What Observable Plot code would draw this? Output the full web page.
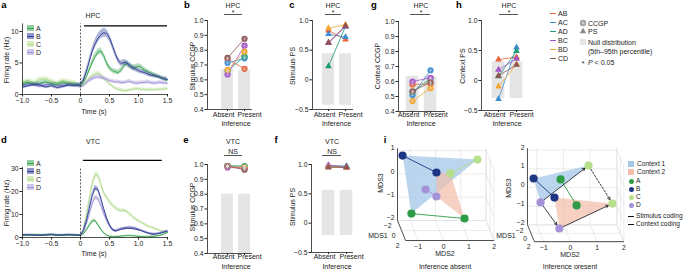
<!DOCTYPE html>
<html>
<head>
<meta charset="utf-8">
<script src="https://cdn.jsdelivr.net/npm/d3@7"></script>
<script src="https://cdn.jsdelivr.net/npm/@observablehq/plot@0.6"></script>
<style>
  html,body{margin:0;padding:0;background:#fff;}
  #root{position:relative;width:685px;height:269px;overflow:hidden;background:#fff;font-family:"Liberation Sans",Arial,Helvetica,sans-serif;color:#222;}
  #root > svg{position:absolute;left:0;top:0;}
  .t{position:absolute;white-space:nowrap;font-size:7px;line-height:1;}
  .b{font-weight:bold;font-size:9.5px;color:#000;}
  .hl{position:absolute;height:0;}
  .sw{position:absolute;}
</style>
</head>
<body>
<div id="root"></div>
<script>
// ---------------- DATA ----------------
const times = [-1.0,-0.9,-0.8,-0.7,-0.6,-0.5,-0.4,-0.3,-0.2,-0.1,0.0,0.05,0.1,0.15,0.2,0.25,0.3,0.35,0.4,0.45,0.5,0.55,0.6,0.65,0.7,0.75,0.8,0.85,0.9,0.95,1.0,1.05,1.1,1.15,1.2,1.25,1.3,1.35,1.4,1.45,1.5];
const timeTicks = [-1.0,-0.5,0,0.5,1.0,1.5];
const conds = ["A","B","C","D"];

// HPC firing rate (Hz)
const hpcA = [1.7,1.9,1.6,1.8,2.0,1.7,1.6,1.9,1.7,1.6,1.4,1.9,2.8,3.9,5.0,6.0,6.7,6.9,6.2,5.0,4.2,3.8,3.6,3.5,3.8,4.6,4.9,4.5,4.3,4.3,4.5,4.3,3.9,3.7,3.4,3.2,3.0,2.8,2.6,2.4,2.3];
const hpcB = [1.2,1.4,1.6,1.5,1.2,1.4,1.1,1.3,1.5,1.4,1.6,2.3,3.6,5.2,6.8,8.0,8.9,9.5,9.8,9.7,9.0,7.8,6.5,5.4,4.9,5.1,5.0,4.6,4.2,4.0,3.8,3.6,3.5,3.3,3.1,3.0,2.9,2.8,2.6,2.5,2.4];
const hpcC = [2.0,2.2,1.9,2.4,2.5,2.1,1.8,2.2,2.0,1.9,1.3,1.6,2.0,2.5,2.9,3.2,3.4,3.1,2.6,2.1,1.7,1.3,1.0,0.8,0.7,0.6,0.6,0.7,0.8,0.9,0.9,0.8,0.8,0.7,0.8,0.7,0.8,0.8,0.8,0.9,0.9];
const hpcD = [1.5,1.7,1.5,1.3,1.6,1.7,1.5,1.4,1.6,1.5,1.2,1.4,1.8,2.2,2.5,2.7,2.8,2.7,2.6,2.4,2.2,2.1,2.0,2.0,1.9,1.9,2.0,2.1,1.9,1.8,1.8,1.9,1.9,2.0,1.9,1.8,1.8,1.9,1.9,1.8,1.8];
const hpcSemA = [0.3,0.3,0.3,0.3,0.3,0.3,0.3,0.3,0.3,0.3,0.3,0.35,0.4,0.45,0.5,0.5,0.5,0.5,0.45,0.45,0.4,0.4,0.4,0.4,0.4,0.45,0.45,0.45,0.4,0.4,0.4,0.4,0.4,0.35,0.35,0.35,0.35,0.3,0.3,0.3,0.3];
const hpcSemB = [0.3,0.3,0.3,0.3,0.3,0.3,0.3,0.3,0.3,0.3,0.3,0.35,0.45,0.55,0.6,0.65,0.7,0.7,0.7,0.65,0.6,0.55,0.5,0.45,0.45,0.45,0.45,0.4,0.4,0.4,0.4,0.35,0.35,0.35,0.35,0.35,0.3,0.3,0.3,0.3,0.3];
const hpcSemC = [0.35,0.35,0.35,0.35,0.35,0.35,0.35,0.35,0.35,0.35,0.3,0.3,0.3,0.35,0.35,0.35,0.35,0.35,0.3,0.3,0.3,0.25,0.25,0.25,0.25,0.25,0.25,0.25,0.25,0.25,0.25,0.25,0.25,0.25,0.25,0.25,0.25,0.25,0.25,0.25,0.25];
const hpcSemD = [0.3,0.3,0.3,0.3,0.3,0.3,0.3,0.3,0.3,0.3,0.3,0.3,0.3,0.35,0.35,0.35,0.35,0.35,0.35,0.3,0.3,0.3,0.3,0.3,0.3,0.3,0.3,0.3,0.3,0.3,0.3,0.3,0.3,0.3,0.3,0.3,0.3,0.3,0.3,0.3,0.3];

// VTC firing rate (Hz)
const vtcA = [1.0,0.9,1.1,1.0,1.1,1.2,0.9,1.0,1.1,1.0,0.9,1.6,3.2,5.2,7.0,7.4,5.6,3.6,2.0,1.0,0.5,0.3,0.3,0.4,0.6,0.7,0.8,0.8,0.7,0.6,0.5,0.4,0.3,0.3,0.4,0.5,0.6,0.8,1.1,1.6,2.2];
const vtcB = [1.1,1.2,1.0,0.9,1.1,1.3,1.0,1.1,1.2,1.1,1.0,3.0,7.0,12.5,18.0,21.5,21.0,17.0,12.5,8.5,5.5,3.5,2.9,3.2,3.6,3.8,4.0,4.0,3.9,3.6,3.3,3.0,2.5,2.0,1.6,1.4,1.5,1.7,2.0,2.4,2.8];
const vtcC = [0.9,1.0,1.2,1.1,1.0,1.3,1.1,1.0,1.2,1.0,0.8,3.5,9.5,16.5,23.0,27.0,27.2,23.5,19.5,17.5,15.5,14.0,13.0,12.0,11.6,11.8,11.2,10.2,9.0,8.0,7.2,6.5,5.8,5.1,4.6,4.2,3.7,3.2,2.8,2.5,2.2];
const vtcD = [1.0,1.1,1.0,1.2,1.0,1.1,1.2,0.9,1.0,1.1,1.0,2.6,5.8,10.0,14.5,17.5,17.0,14.0,10.5,7.5,5.0,3.2,2.7,3.1,3.7,4.1,4.4,4.5,4.4,4.1,3.6,2.9,2.4,2.1,1.8,1.6,1.6,1.8,2.1,2.5,2.8];
const vtcSemA = [0.3,0.3,0.3,0.3,0.3,0.3,0.3,0.3,0.3,0.3,0.3,0.4,0.5,0.6,0.7,0.7,0.6,0.5,0.4,0.3,0.3,0.3,0.3,0.3,0.3,0.3,0.3,0.3,0.3,0.3,0.3,0.3,0.3,0.3,0.3,0.3,0.3,0.3,0.3,0.3,0.3];
const vtcSemB = [0.3,0.3,0.3,0.3,0.3,0.3,0.3,0.3,0.3,0.3,0.3,0.6,0.9,1.1,1.2,1.2,1.1,1.0,0.9,0.8,0.7,0.6,0.5,0.5,0.5,0.5,0.5,0.5,0.5,0.5,0.5,0.4,0.4,0.4,0.4,0.4,0.4,0.4,0.4,0.4,0.4];
const vtcSemC = [0.3,0.3,0.3,0.3,0.3,0.3,0.3,0.3,0.3,0.3,0.3,0.7,1.0,1.3,1.4,1.4,1.3,1.2,1.1,1.0,0.9,0.9,0.9,0.8,0.8,0.8,0.8,0.8,0.7,0.7,0.7,0.6,0.6,0.6,0.5,0.5,0.5,0.5,0.5,0.5,0.5];
const vtcSemD = [0.3,0.3,0.3,0.3,0.3,0.3,0.3,0.3,0.3,0.3,0.3,0.6,0.8,1.0,1.1,1.1,1.0,0.9,0.8,0.7,0.6,0.5,0.5,0.5,0.5,0.5,0.5,0.5,0.5,0.5,0.5,0.4,0.4,0.4,0.4,0.4,0.4,0.4,0.4,0.4,0.4];

// Pairwise decoding (order AB, AC, AD, BC, BD, CD)
const pairs = ["AB","AC","AD","BC","BD","CD"];
const inferenceLabels = ["Absent","Present"];
const hpcStimCCGPAbsent  = [0.74,0.715,0.66,0.636,0.668,0.748];
const hpcStimCCGPPresent = [0.674,0.745,0.757,0.83,0.79,0.877];
const hpcStimCCGPNullLo  = [0.4,0.4];
const hpcStimCCGPNullHi  = [0.67,0.665];
const hpcStimPSAbsent  = [0.83,0.77,0.23,0.62,0.87,0.63];
const hpcStimPSPresent = [0.68,0.72,0.90,0.90,0.93,0.91];
const hpcStimPSNullLo  = [-0.43,-0.43];
const hpcStimPSNullHi  = [0.44,0.44];
const hpcCtxCCGPAbsent  = [0.58,0.51,0.53,0.60,0.47,0.535];
const hpcCtxCCGPPresent = [0.585,0.675,0.62,0.625,0.555,0.595];
const hpcCtxCCGPNullLo  = [0.4,0.4];
const hpcCtxCCGPNullHi  = [0.635,0.635];
const hpcCtxPSAbsent  = [0.35,-0.31,0.07,0.18,-0.10,0.08];
const hpcCtxPSPresent = [0.39,0.55,0.49,0.36,0.27,0.26];
const hpcCtxPSNullLo  = [-0.30,-0.30];
const hpcCtxPSNullHi  = [0.31,0.31];
const vtcStimCCGPAbsent  = [0.99,0.99,0.99,0.98,0.99,0.99];
const vtcStimCCGPPresent = [0.975,0.985,0.99,0.975,0.98,0.965];
const vtcStimCCGPNullLo  = [0.4,0.4];
const vtcStimCCGPNullHi  = [0.8,0.8];
const vtcStimPSAbsent  = [0.97,0.98,0.97,0.99,0.96,0.95];
const vtcStimPSPresent = [0.95,0.97,0.97,0.96,0.95,0.95];
const vtcStimPSNullLo  = [-0.21,-0.21];
const vtcStimPSNullHi  = [0.56,0.56];
const ccgpTicks = [0.4,0.5,0.6,0.7,0.8,0.9,1.0];
const psTicks = [-0.5,0,0.5,1.0];

// MDS (panel i): [MDS1, MDS2, MDS3] for stimuli A, B, C, D
const stimuli = ["A","B","C","D"];
const absentCtx1 = [[1,-1.19,-1.06],[-1,-1.38,1.00],[-1,1.58,0.83],[0,-0.55,-0.24]];
const absentCtx2 = [[1,0.91,-1.27],[0,-0.12,0.49],[0,0.43,0.45],[0,-0.12,-0.54]];
const presentCtx1 = [[0,-0.24,0.88],[0,-1.25,0.93],[-1,0.87,1.40],[0,-0.99,-0.35]];
const presentCtx2 = [[0,0.36,-0.51],[0,-0.47,-0.09],[0,1.70,-0.41],[1,-0.35,-1.52]];
const mds1Ticks = [-2,0,2];
const mds2Ticks = [-1,0,1,2];
const mds3TicksAbsent = [-2,-1,0,1];
const mds3TicksPresent = [-2,-1,0,1,2];

// ---------------- STYLE ----------------
const condColors = ["#3aa552","#34449a","#b3dc8f","#a596d8"];
const pairColors = ["#e8643c","#3c8dd0","#1d9a78","#a553c9","#f4a630","#8e5454"];
const stimColors = ["#2f9c47","#1e3785","#b6e08c","#a592d8"];
const ctxFill = ["#a6c9e8","#f3bcab"];
const nullGray = "#e5e5e5";

const root = document.getElementById("root");
const W = 685, H = 269;
const FONT = '"Liberation Sans", Arial, Helvetica, sans-serif';
const fmt1 = d => d === 0 ? "0" : d3.format(".1f")(d);
const fmtI = d3.format("d");

function box(l, r, t, b) {
  return {width: W, height: H, marginLeft: l, marginRight: W - r, marginTop: t, marginBottom: H - b,
    style: {background: "transparent", overflow: "visible", fontFamily: FONT, fontSize: "6.8px", color: "#222"}};
}
function T(s, x, y, o = {}) {
  const el = document.createElement("div");
  el.className = "t" + (o.bold ? " b" : "");
  el.innerHTML = s;
  const ax = o.anchor === "start" ? "0%" : o.anchor === "end" ? "-100%" : "-50%";
  el.style.left = x + "px"; el.style.top = y + "px";
  el.style.transform = `translate(${ax},-50%)` + (o.rotate ? " rotate(-90deg)" : "");
  if (o.size) el.style.fontSize = o.size + "px";
  if (o.color) el.style.color = o.color;
  root.appendChild(el);
}
function HL(x1, x2, y, color = "#555", w = 0.8, dash = false) {
  const el = document.createElement("div");
  el.className = "hl";
  el.style.left = x1 + "px"; el.style.top = y + "px"; el.style.width = (x2 - x1) + "px";
  el.style.borderTop = `${w}px ${dash ? "dashed" : "solid"} ${color}`;
  root.appendChild(el);
}
function SW(x, y, w, h, css) {
  const el = document.createElement("div");
  el.className = "sw";
  el.style.left = x + "px"; el.style.top = y + "px"; el.style.width = w + "px"; el.style.height = h + "px";
  el.style.cssText += css;
  root.appendChild(el);
}
function add(svg) { root.appendChild(svg); }

// ---------------- TIME SERIES (a, d) ----------------
function tsPanel(means, sems, cfg) {
  const marks = [];
  for (const ci of [2, 3, 0, 1]) {
    const rows = times.map((t, i) => ({t, m: means[ci][i], s: sems[ci][i]}));
    marks.push(Plot.areaY(rows, {x: "t", y1: d => d.m - d.s, y2: d => d.m + d.s, fill: condColors[ci], fillOpacity: 0.38}));
    marks.push(Plot.lineY(rows, {x: "t", y: "m", stroke: condColors[ci], strokeWidth: 1}));
  }
  marks.push(
    Plot.ruleX([0], {y1: 0, y2: cfg.axisTop, stroke: "#222", strokeWidth: 0.7, strokeDasharray: "2,1.5"}),
    Plot.ruleY([cfg.barY], {x1: cfg.stim[0], x2: cfg.stim[1], stroke: "#000", strokeWidth: 1.3}),
    Plot.ruleX([-1], {y1: 0, y2: cfg.axisTop, stroke: "#222", strokeWidth: 0.8}),
    Plot.ruleY([0], {x1: -1, x2: 1.5, stroke: "#222", strokeWidth: 0.8}),
    Plot.axisX({ticks: timeTicks, tickFormat: fmt1, tickSize: 2.5, tickPadding: 1.5, label: null, fontSize: 6.8}),
    Plot.axisY({ticks: cfg.yTicks, tickFormat: fmtI, tickSize: 2.5, tickPadding: 1.5, label: null, fontSize: 6.8})
  );
  return Plot.plot({...box(...cfg.frame), x: {domain: [-1, 1.5]}, y: {domain: cfg.yDomain}, marks});
}

add(tsPanel([hpcA, hpcB, hpcC, hpcD], [hpcSemA, hpcSemB, hpcSemC, hpcSemD],
  {frame: [22, 167, 23.4, 94], yDomain: [0, 11.2], yTicks: [0, 5, 10], axisTop: 11.2, barY: 10.9, stim: [0.07, 1.5]}));
add(tsPanel([vtcA, vtcB, vtcC, vtcD], [vtcSemA, vtcSemB, vtcSemC, vtcSemD],
  {frame: [22, 167, 161.1, 237], yDomain: [0, 33], yTicks: [0, 10, 20, 30], axisTop: 30.5, barY: 33.5, stim: [0.05, 1.41]}));

// ---------------- PAIR PANELS (b, c, e, f, g, h) ----------------
function pairPanel(cfg) {
  const rows = pairs.flatMap((p, i) => [{pair: p, x: 0, v: cfg.absent[i]}, {pair: p, x: 1, v: cfg.present[i]}]);
  const bars = [0, 1].map(i => ({x: i, lo: cfg.nullLo[i], hi: cfg.nullHi[i]}));
  const [x0, x1] = cfg.xDomain, [y0, y1] = cfg.yDomain;
  const marks = [
    Plot.rect(bars, {x1: d => d.x - 0.35, x2: d => d.x + 0.35, y1: "lo", y2: "hi", fill: nullGray}),
    Plot.line(rows, {x: "x", y: "v", z: "pair", stroke: "pair", strokeWidth: 0.8}),
  ];
  if (cfg.symbol === "circle") {
    marks.push(Plot.dot(rows, {x: "x", y: "v", fill: "pair", r: 3.1}));
    marks.push(Plot.dot(rows, {x: "x", y: "v", symbol: "asterisk", r: 2.1, stroke: "#e6e6e6", strokeWidth: 0.5, strokeOpacity: 0.7}));
  } else {
    marks.push(Plot.dot(rows, {x: "x", y: "v", fill: "pair", symbol: "triangle", r: 2.5}));
  }
  marks.push(
    Plot.ruleX([x0], {y1: y0, y2: y1, stroke: "#222", strokeWidth: 0.8}),
    Plot.ruleY([y0], {x1: x0, x2: x1, stroke: "#222", strokeWidth: 0.8}),
    Plot.axisY({ticks: cfg.yTicks, tickFormat: fmt1, tickSize: 2.5, tickPadding: 1.5, label: null, fontSize: 6.8}),
    Plot.axisX({ticks: [0, 1], tickFormat: () => "", tickSize: 2, label: null}),
    Plot.text([{x: 0, l: inferenceLabels[0]}], {x: "x", text: "l", frameAnchor: "bottom", dy: cfg.labelDy, dx: 7, textAnchor: "end", fontSize: 7}),
    Plot.text([{x: 1, l: inferenceLabels[1]}], {x: "x", text: "l", frameAnchor: "bottom", dy: cfg.labelDy, dx: -7, textAnchor: "start", fontSize: 7})
  );
  return Plot.plot({...box(...cfg.frame), x: {domain: cfg.xDomain, axis: null}, y: {domain: cfg.yDomain, axis: null},
    color: {domain: pairs, range: pairColors}, marks});
}

add(pairPanel({frame: [207, 252, 20, 109], xDomain: [-1.18, 1.47], yDomain: [0.4, 1.0], yTicks: ccgpTicks,
  absent: hpcStimCCGPAbsent, present: hpcStimCCGPPresent, nullLo: hpcStimCCGPNullLo, nullHi: hpcStimCCGPNullHi, symbol: "circle", labelDy: 7}));
add(pairPanel({frame: [312, 353, 20, 109], xDomain: [-0.94, 1.47], yDomain: [-0.5, 1.0], yTicks: psTicks,
  absent: hpcStimPSAbsent, present: hpcStimPSPresent, nullLo: hpcStimPSNullLo, nullHi: hpcStimPSNullHi, symbol: "triangle", labelDy: 7}));
add(pairPanel({frame: [398, 445, 21, 111], xDomain: [-0.78, 1.83], yDomain: [0.4, 1.0], yTicks: ccgpTicks,
  absent: hpcCtxCCGPAbsent, present: hpcCtxCCGPPresent, nullLo: hpcCtxCCGPNullLo, nullHi: hpcCtxCCGPNullHi, symbol: "circle", labelDy: 5}));
add(pairPanel({frame: [481, 533, 20, 110], xDomain: [-0.94, 1.94], yDomain: [-0.5, 1.0], yTicks: psTicks,
  absent: hpcCtxPSAbsent, present: hpcCtxPSPresent, nullLo: hpcCtxPSNullLo, nullHi: hpcCtxPSNullHi, symbol: "triangle", labelDy: 6}));
add(pairPanel({frame: [207, 252, 164, 253], xDomain: [-1.18, 1.47], yDomain: [0.4, 1.0], yTicks: ccgpTicks,
  absent: vtcStimCCGPAbsent, present: vtcStimCCGPPresent, nullLo: vtcStimCCGPNullLo, nullHi: vtcStimCCGPNullHi, symbol: "circle", labelDy: 5}));
add(pairPanel({frame: [311, 353, 164, 252], xDomain: [-0.94, 1.39], yDomain: [-0.5, 1.0], yTicks: psTicks,
  absent: vtcStimPSAbsent, present: vtcStimPSPresent, nullLo: vtcStimPSNullLo, nullHi: vtcStimPSNullHi, symbol: "triangle", labelDy: 6}));

// ---------------- MDS PANELS (i) ----------------
function mdsPanel(cfg) {
  const P = ([m1, m2, m3]) => ({u: m2 + cfg.kx * m1, v: m3 - cfg.ky * m1});
  const [a1, b1] = cfg.m1Range, [a2, b2] = cfg.m2Range, [a3, b3] = cfg.m3Range;
  const grid = [], axes = [];
  const seg = (arr, p, q) => { const A = P(p), B = P(q); arr.push({x1: A.u, y1: A.v, x2: B.u, y2: B.v}); };
  cfg.m3Ticks.forEach(z => seg(grid, [a1, a2, z], [a1, b2, z]));
  mds2Ticks.forEach(y => seg(grid, [a1, y, a3], [a1, y, b3]));
  mds2Ticks.forEach(y => seg(grid, [a1, y, a3], [b1, y, a3]));
  mds1Ticks.forEach(x => seg(grid, [x, a2, a3], [x, b2, a3]));
  cfg.m3Ticks.forEach(z => seg(grid, [a1, b2, z], [b1, b2, z]));
  mds1Ticks.forEach(x => seg(grid, [x, b2, a3], [x, b2, b3]));
  seg(axes, [a1, a2, a3], [a1, a2, b3]);
  seg(axes, [a1, a2, a3], [b1, a2, a3]);
  seg(axes, [b1, a2, a3], [b1, b2, a3]);

  const pts = stimuli.flatMap((s, i) => [{s, ctx: 1, ...P(cfg.ctx1[i])}, {s, ctx: 2, ...P(cfg.ctx2[i])}]);
  const links = stimuli.map((s, i) => { const A = P(cfg.ctx1[i]), B = P(cfg.ctx2[i]); return {s, x1: A.u, y1: A.v, x2: B.u, y2: B.v}; })
    .filter(d => cfg.linked.includes(d.s));
  const arrow = (a, b) => { const A = P(a), B = P(b); return {x1: A.u, y1: A.v, x2: B.u, y2: B.v}; };
  const solidArrows = cfg.solidArrows.map(([a, b]) => arrow(a, b));
  const dashArrows = cfg.dashArrows.map(([a, b]) => arrow(a, b));

  const z3 = cfg.m3Ticks.map(z => ({...P([a1, a2, z]), l: fmtI(z)}));
  const z1 = mds1Ticks.map(x => ({...P([x, a2, a3]), l: fmtI(x)}));
  const z2 = mds2Ticks.map(y => ({...P([b1, y, a3]), l: fmtI(y)}));

  return Plot.plot({
    ...box(...cfg.frame),
    x: {domain: cfg.uDomain, axis: null}, y: {domain: cfg.vDomain, axis: null},
    color: {domain: stimuli, range: stimColors},
    marks: [
      Plot.link(grid, {x1: "x1", y1: "y1", x2: "x2", y2: "y2", stroke: "#d9d9d9", strokeWidth: 0.5}),
      Plot.link(axes, {x1: "x1", y1: "y1", x2: "x2", y2: "y2", stroke: "#222", strokeWidth: 0.8}),
      Plot.hull(pts.filter(d => d.ctx === 1), {x: "u", y: "v", fill: ctxFill[0], fillOpacity: 0.78, stroke: "none"}),
      Plot.hull(pts.filter(d => d.ctx === 2), {x: "u", y: "v", fill: ctxFill[1], fillOpacity: 0.7, stroke: "none"}),
      Plot.link(links, {x1: "x1", y1: "y1", x2: "x2", y2: "y2", stroke: "s", strokeWidth: 0.9}),
      Plot.arrow(solidArrows, {x1: "x1", y1: "y1", x2: "x2", y2: "y2", stroke: "#111", strokeWidth: 0.8, headLength: 5, insetStart: 4.5, insetEnd: 4.5}),
      Plot.arrow(dashArrows, {x1: "x1", y1: "y1", x2: "x2", y2: "y2", stroke: "#111", strokeWidth: 0.8, headLength: 5, insetStart: 4.5, insetEnd: 4.5, strokeDasharray: "2,1.5"}),
      Plot.dot(pts, {x: "u", y: "v", fill: "s", r: 4.1}),
      Plot.text(z3, {x: "u", y: "v", text: "l", dx: -3, dy: -2.5, textAnchor: "end", fontSize: 6.8}),
      Plot.text(z1, {x: "u", y: "v", text: "l", dx: cfg.m1dx, dy: 5.5, textAnchor: "end", fontSize: 6.8}),
      Plot.text(z2, {x: "u", y: "v", text: "l", dy: 6, fontSize: 6.8})
    ]
  });
}

add(mdsPanel({frame: [388.4, 499.7, 136.8, 253.3], uDomain: [-2, 2.4], vDomain: [-3, 2], kx: 0.08, ky: 0.215,
  m1Range: [-2, 2], m2Range: [-1.5, 2], m3Range: [-2, 1.1], m3Ticks: mds3TicksAbsent, m1dx: -6,
  ctx1: absentCtx1, ctx2: absentCtx2, linked: ["A","B","C","D"], solidArrows: [], dashArrows: []}));
add(mdsPanel({frame: [513.1, 630.6, 146.8, 255.2], uDomain: [-2, 2.4], vDomain: [-3.2, 2.6], kx: 0.0655, ky: 0.225,
  m1Range: [-2, 2], m2Range: [-1.35, 2], m3Range: [-2, 2.1], m3Ticks: mds3TicksPresent, m1dx: -4,
  ctx1: presentCtx1, ctx2: presentCtx2, linked: ["A","B"],
  solidArrows: [[presentCtx1[3], presentCtx1[2]], [presentCtx2[3], presentCtx2[2]], [presentCtx1[3], presentCtx2[3]]],
  dashArrows: [[presentCtx1[2], presentCtx2[2]]]}));

// ---------------- TEXT & ANNOTATIONS ----------------
[["a",4,5],["b",187,5],["c",292,5],["g",374,5],["h",459,5],["d",4,140],["e",186,140],["f",276,140],["i",385,140]]
  .forEach(([s,x,y]) => T(s, x, y, {bold: true}));
T("HPC", 93, 15); T("VTC", 93, 141);
[[233,224,242],[333,325,341],[421,410,430],[509,499,518]].forEach(([c,x1,x2]) => { T("HPC", c, 5); T("*", c, 11.5); HL(x1, x2, 14); });
[[233,224,242],[332,322,341]].forEach(([c,x1,x2]) => { T("VTC", c, 141); T("NS", c, 150.5); HL(x1, x2, 155); });
T("Firing rate (Hz)", 6, 60, {rotate: true}); T("Firing rate (Hz)", 6, 203, {rotate: true});
T("Time (s)", 94, 111); T("Time (s)", 94, 253);
T("Stimulus CCGP", 192, 66, {rotate: true}); T("Stimulus PS", 292, 66, {rotate: true});
T("Context CCGP", 377, 66, {rotate: true}); T("Context PS", 462, 66, {rotate: true});
T("Stimulus CCGP", 192, 207, {rotate: true}); T("Stimulus PS", 292, 207, {rotate: true});
T("Inference", 236, 123); T("Inference", 336.5, 123); T("Inference", 421, 123); T("Inference", 507, 123);
T("Inference", 236, 266); T("Inference", 337, 266);
[28, 163].forEach(y0 => conds.forEach((c, i) => {
  const y = y0 + i * 8;
  SW(27, y - 3, 7, 6, `background:${condColors[i]};opacity:0.55;`);
  HL(27, 34, y - 0.5, condColors[i], 1);
  T(c, 36, y, {anchor: "start"});
}));
pairs.forEach((p, i) => { const y = 13 + i * 9; HL(550, 556, y - 0.4, pairColors[i], 1); T(p, 558, y, {anchor: "start"}); });
T('<svg width="8" height="8" viewBox="-4 -4 8 8" style="display:block"><circle r="3.2" fill="#9a9a9a"/><path d="M0,-2.3V2.3M-2,-1.15L2,1.15M-2,1.15L2,-1.15" stroke="#e0e0e0" stroke-width="0.6"/></svg>', 583, 23);
T("CCGP", 588, 23, {anchor: "start"});
T('<svg width="8" height="8" viewBox="-4 -4 8 8" style="display:block"><path d="M0,-3.3L3.2,2.3H-3.2Z" fill="#8a8a8a"/></svg>', 583, 31);
T("PS", 588, 31, {anchor: "start"});
SW(580, 39, 6, 6, `background:${nullGray};`);
T("Null distribution", 588, 42, {anchor: "start"});
T("(5th–95th percentile)", 588, 50.5, {anchor: "start"});
T("*", 583, 62.5); T("<i>P</i> &lt; 0.05", 588, 62, {anchor: "start"});
T("MDS3", 380, 183, {rotate: true}); T("MDS3", 508, 188, {rotate: true});
T("MDS1", 378, 235); T("MDS1", 506, 235);
T("MDS2", 445, 253); T("MDS2", 570, 254);
T("Inference absent", 445, 266); T("Inference present", 570, 266);
SW(628, 161, 6, 6, `background:${ctxFill[0]};`); T("Context 1", 637, 164, {anchor: "start", size: 6.6});
SW(628, 169, 6, 6, `background:${ctxFill[1]};`); T("Context 2", 637, 172, {anchor: "start", size: 6.6});
stimuli.forEach((s, i) => { const y = 181 + i * 8; SW(629, y - 2.5, 5, 5, `background:${stimColors[i]};border-radius:50%;`); T(s, 636, y, {anchor: "start", size: 6.6}); });
HL(628, 634, 216, "#111", 0.9); T("Stimulus coding", 636, 216, {anchor: "start", size: 6.6});
HL(628, 634, 224, "#111", 0.9, true); T("Context coding", 636, 224, {anchor: "start", size: 6.6});
</script>
</body>
</html>
